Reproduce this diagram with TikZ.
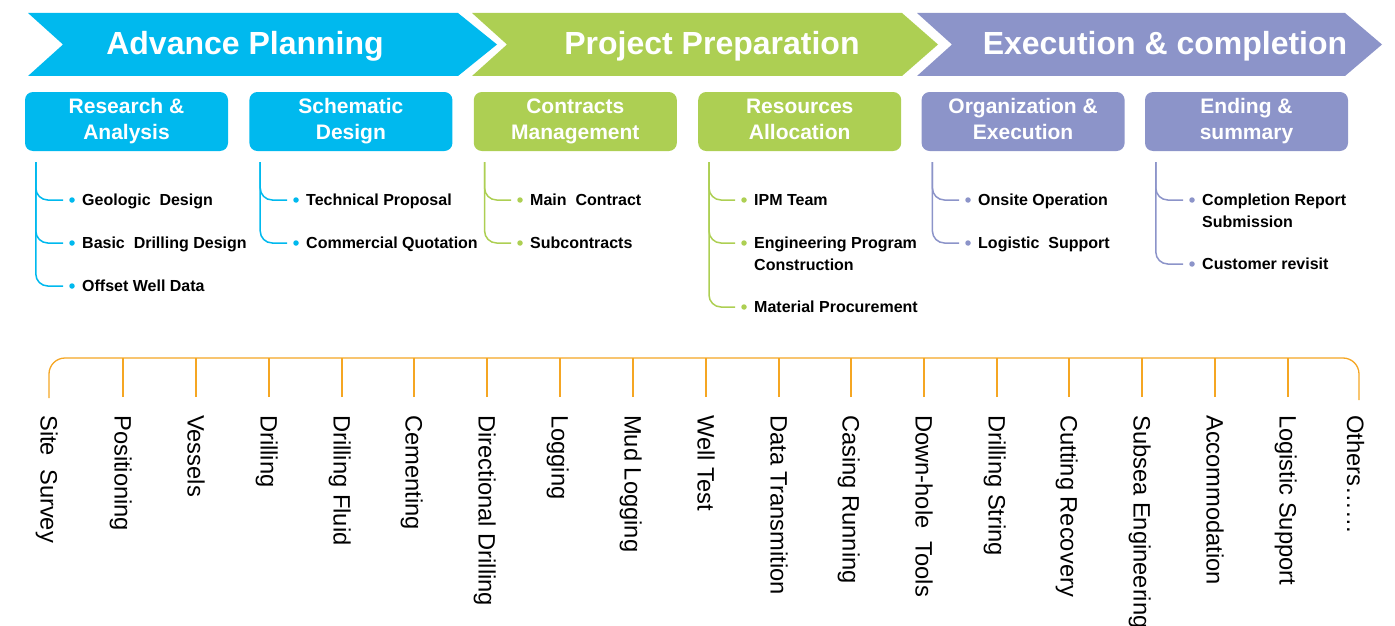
\documentclass[tikz,border=0pt]{standalone}
\usepackage{fontspec}
\setmainfont{Liberation Sans}
\usetikzlibrary{calc, positioning}
\definecolor{planblue}{RGB}{0,185,238}
\definecolor{prepgreen}{RGB}{173,207,83}
\definecolor{execpurple}{RGB}{140,148,201}
\definecolor{bracketorange}{RGB}{245,166,35}
\begin{document}
\begin{tikzpicture}[x=1pt, y=-1pt,
  phase/.style={text=white, inner sep=0pt, font=\bfseries\fontsize{32}{38}\selectfont},
  stage/.style={fill=#1, rounded corners=8pt, minimum width=203pt, minimum height=59pt,
    inner sep=0pt, text=white, align=center, font=\bfseries\fontsize{21}{26}\selectfont,
    execute at end node={\vphantom{gy}}},
  branch/.style={#1, line width=1.5pt, rounded corners=12pt},
  dot/.style={circle, fill=#1, inner sep=0pt, minimum size=5.5pt},
  item/.style={anchor=north west, align=left, inner sep=0pt, font=\bfseries\fontsize{16}{21.5}\selectfont},
  bracket/.style={bracketorange, line width=1.3pt},
  service/.style={rotate=-90, anchor=base west, inner sep=0pt, font=\fontsize{23.7}{28}\selectfont}]
\useasboundingbox (0,0) rectangle (1395,626);
% Phase banners
\fill[planblue] (28,13) -- (458,13) -- (497,44.5) -- (458,76) -- (28,76) -- (63,44.5) -- cycle;
\fill[prepgreen] (472,13) -- (902,13) -- (938,44.5) -- (902,76) -- (472,76) -- (507,44.5) -- cycle;
\fill[execpurple] (917,13) -- (1345,13) -- (1382,44.5) -- (1345,76) -- (917,76) -- (952,44.5) -- cycle;
\node[phase] (p1) at (245,46) {Advance Planning};
\node[phase] (p2) at (712,46) {Project Preparation};
\node[phase] (p3) at (1165,46) {Execution \& completion};
% Stage boxes
\node[stage=planblue] (b1) at (126.5,121.5) {Research \&\\Analysis};
\node[stage=planblue, right=21pt of b1] (b2) {Schematic\\Design};
\node[stage=prepgreen, right=21pt of b2] (b3) {Contracts\\Management};
\node[stage=prepgreen, right=21pt of b3] (b4) {Resources\\Allocation};
\node[stage=execpurple, right=20pt of b4] (b5) {Organization \&\\Execution};
\node[stage=execpurple, right=20pt of b5] (b6) {Ending \&\\summary};
% Items of each stage
\node[dot=planblue] (d11) at (72,200) {};
\node[dot=planblue] (d12) at (72,243) {};
\node[dot=planblue] (d13) at (72,286) {};
\node[item] (i11) at ([shift={(10,-6)}]d11) {Geologic~ Design};
\node[item] (i12) at ([shift={(10,-6)}]d12) {Basic~ Drilling Design};
\node[item] (i13) at ([shift={(10,-6)}]d13) {Offset Well Data};
\draw[branch=planblue] (b1.south west) ++(11,11) |- ([xshift=-9pt]d11.center);
\draw[branch=planblue] (b1.south west) ++(11,11) |- ([xshift=-9pt]d12.center);
\draw[branch=planblue] (b1.south west) ++(11,11) |- ([xshift=-9pt]d13.center);

\node[dot=planblue] (d21) at (296,200) {};
\node[dot=planblue] (d22) at (296,243) {};
\node[item] (i21) at ([shift={(10,-6)}]d21) {Technical Proposal};
\node[item] (i22) at ([shift={(10,-6)}]d22) {Commercial Quotation};
\draw[branch=planblue] (b2.south west) ++(11,11) |- ([xshift=-9pt]d21.center);
\draw[branch=planblue] (b2.south west) ++(11,11) |- ([xshift=-9pt]d22.center);

\node[dot=prepgreen] (d31) at (520,200) {};
\node[dot=prepgreen] (d32) at (520,243) {};
\node[item] (i31) at ([shift={(10,-6)}]d31) {Main~ Contract};
\node[item] (i32) at ([shift={(10,-6)}]d32) {Subcontracts};
\draw[branch=prepgreen] (b3.south west) ++(11,11) |- ([xshift=-9pt]d31.center);
\draw[branch=prepgreen] (b3.south west) ++(11,11) |- ([xshift=-9pt]d32.center);

\node[dot=prepgreen] (d41) at (744,200) {};
\node[dot=prepgreen] (d42) at (744,243) {};
\node[dot=prepgreen] (d43) at (744,307) {};
\node[item] (i41) at ([shift={(10,-6)}]d41) {IPM Team};
\node[item] (i42) at ([shift={(10,-6)}]d42) {Engineering Program\\Construction};
\node[item] (i43) at ([shift={(10,-6)}]d43) {Material Procurement};
\draw[branch=prepgreen] (b4.south west) ++(11,11) |- ([xshift=-9pt]d41.center);
\draw[branch=prepgreen] (b4.south west) ++(11,11) |- ([xshift=-9pt]d42.center);
\draw[branch=prepgreen] (b4.south west) ++(11,11) |- ([xshift=-9pt]d43.center);

\node[dot=execpurple] (d51) at (968,200) {};
\node[dot=execpurple] (d52) at (968,243) {};
\node[item] (i51) at ([shift={(10,-6)}]d51) {Onsite Operation};
\node[item] (i52) at ([shift={(10,-6)}]d52) {Logistic~ Support};
\draw[branch=execpurple] (b5.south west) ++(11,11) |- ([xshift=-9pt]d51.center);
\draw[branch=execpurple] (b5.south west) ++(11,11) |- ([xshift=-9pt]d52.center);

\node[dot=execpurple] (d61) at (1192,200) {};
\node[dot=execpurple] (d62) at (1192,264) {};
\node[item] (i61) at ([shift={(10,-6)}]d61) {Completion Report\\Submission};
\node[item] (i62) at ([shift={(10,-6)}]d62) {Customer revisit};
\draw[branch=execpurple] (b6.south west) ++(11,11) |- ([xshift=-9pt]d61.center);
\draw[branch=execpurple] (b6.south west) ++(11,11) |- ([xshift=-9pt]d62.center);
% Bracket ends of the services
\coordinate (k1) at (49,398);
\coordinate (k2) at (123,397);
\coordinate (k3) at (196,397);
\coordinate (k4) at (269,397);
\coordinate (k5) at (342,397);
\coordinate (k6) at (414,397);
\coordinate (k7) at (487,397);
\coordinate (k8) at (560,397);
\coordinate (k9) at (633,397);
\coordinate (k10) at (706,397);
\coordinate (k11) at (779,397);
\coordinate (k12) at (851,397);
\coordinate (k13) at (924,397);
\coordinate (k14) at (997,397);
\coordinate (k15) at (1069,397);
\coordinate (k16) at (1142,397);
\coordinate (k17) at (1215,397);
\coordinate (k18) at (1288,397);
\coordinate (k19) at (1359,400);
\draw[bracket, rounded corners=16pt] (k1) -- (49,358) -| (k19);
\draw[bracket] (k2) -- (123,358);
\draw[bracket] (k3) -- (196,358);
\draw[bracket] (k4) -- (269,358);
\draw[bracket] (k5) -- (342,358);
\draw[bracket] (k6) -- (414,358);
\draw[bracket] (k7) -- (487,358);
\draw[bracket] (k8) -- (560,358);
\draw[bracket] (k9) -- (633,358);
\draw[bracket] (k10) -- (706,358);
\draw[bracket] (k11) -- (779,358);
\draw[bracket] (k12) -- (851,358);
\draw[bracket] (k13) -- (924,358);
\draw[bracket] (k14) -- (997,358);
\draw[bracket] (k15) -- (1069,358);
\draw[bracket] (k16) -- (1142,358);
\draw[bracket] (k17) -- (1215,358);
\draw[bracket] (k18) -- (1288,358);
% Services
\node[service] (s1) at ([shift={(-8.5,17)}]k1) {Site~ Survey};
\node[service] (s2) at ([shift={(-8.5,18)}]k2) {Positioning};
\node[service] (s3) at ([shift={(-8.5,18)}]k3) {Vessels};
\node[service] (s4) at ([shift={(-8.5,18)}]k4) {Drilling};
\node[service] (s5) at ([shift={(-8.5,18)}]k5) {Drilling Fluid};
\node[service] (s6) at ([shift={(-8.5,18)}]k6) {Cementing};
\node[service] (s7) at ([shift={(-8.5,18)}]k7) {Directional Drilling};
\node[service] (s8) at ([shift={(-8.5,18)}]k8) {Logging};
\node[service] (s9) at ([shift={(-8.5,18)}]k9) {Mud Logging};
\node[service] (s10) at ([shift={(-8.5,18)}]k10) {Well Test};
\node[service] (s11) at ([shift={(-8.5,18)}]k11) {Data Transmition};
\node[service] (s12) at ([shift={(-8.5,18)}]k12) {Casing Running};
\node[service] (s13) at ([shift={(-8.5,18)}]k13) {Down-hole~ Tools};
\node[service] (s14) at ([shift={(-8.5,18)}]k14) {Drilling String};
\node[service] (s15) at ([shift={(-8.5,18)}]k15) {Cutting Recovery};
\node[service] (s16) at ([shift={(-8.5,18)}]k16) {Subsea Engineering};
\node[service] (s17) at ([shift={(-8.5,18)}]k17) {Accommodation};
\node[service] (s18) at ([shift={(-8.5,18)}]k18) {Logistic Support};
\node[service] (s19) at ([shift={(-12,15)}]k19) {Others……};
\end{tikzpicture}
\end{document}
